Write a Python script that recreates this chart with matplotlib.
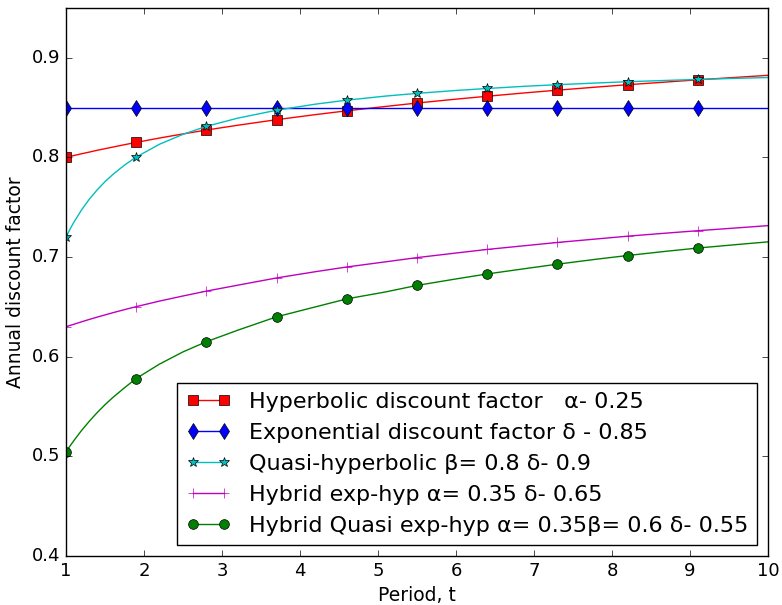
import numpy as np
import matplotlib
matplotlib.use('Agg')
from matplotlib import pyplot as plt

plt.style.use('classic')

# period values (dense list so the curves look smooth) and marker positions
t = [1.0, 1.05, 1.1, 1.2, 1.3, 1.4, 1.5, 1.6, 1.75, 1.9, 2.2, 2.5, 2.8, 3.2, 3.7,
     4.2, 4.6, 5.1, 5.5, 6.0, 6.4, 6.9, 7.3, 7.8, 8.2, 8.7, 9.1, 9.6, 10.0]
marks = [0, 9, 12, 14, 16, 18, 20, 22, 24, 26]

hyperbolic = [0.800, 0.8009, 0.8018, 0.8036, 0.8053, 0.8071, 0.8087, 0.8103, 0.8127,
              0.8150, 0.8194, 0.8235, 0.8274, 0.8322, 0.8378, 0.8429, 0.8467, 0.8511,
              0.8545, 0.8584, 0.8613, 0.8648, 0.8674, 0.8705, 0.8729, 0.8756, 0.8778,
              0.8803, 0.8823]
exponential = [0.85] * len(t)
quasi = [0.720, 0.7277, 0.7348, 0.7473, 0.7581, 0.7674, 0.7756, 0.7828, 0.7922,
         0.8003, 0.8132, 0.8231, 0.8311, 0.8393, 0.8473, 0.8534, 0.8574, 0.8615,
         0.8642, 0.8671, 0.8691, 0.8714, 0.8729, 0.8746, 0.8759, 0.8772, 0.8782,
         0.8793, 0.8801]
hybrid = [0.630, 0.6313, 0.6325, 0.6350, 0.6374, 0.6397, 0.6419, 0.6441, 0.6472,
          0.6502, 0.6558, 0.6609, 0.6658, 0.6717, 0.6790, 0.6853, 0.6900, 0.6952,
          0.6994, 0.7040, 0.7076, 0.7115, 0.7146, 0.7181, 0.7209, 0.7240, 0.7264,
          0.7292, 0.7315]
hybrid_quasi = [0.5045, 0.5102, 0.5157, 0.5260, 0.5353, 0.5439, 0.5518, 0.5590, 0.5688,
                0.5781, 0.5926, 0.6048, 0.6150, 0.6265, 0.6400, 0.6500, 0.6580, 0.6650,
                0.6715, 0.6780, 0.6830, 0.6885, 0.6928, 0.6978, 0.7015, 0.7058, 0.7090,
                0.7125, 0.7152]

labels = ['Hyperbolic discount factor   \u03b1- 0.25',
          'Exponential discount factor \u03b4 - 0.85',
          'Quasi-hyperbolic \u03b2= 0.8 \u03b4- 0.9',
          'Hybrid exp-hyp \u03b1= 0.35 \u03b4- 0.65',
          'Hybrid Quasi exp-hyp \u03b1= 0.35\u03b2= 0.6 \u03b4- 0.55']

fig = plt.figure(figsize=(7.82, 6.05), dpi=100)
ax = fig.add_subplot(111)
fig.subplots_adjust(left=0.0844, right=0.982, bottom=0.081, top=0.987)

ax.plot(t, hyperbolic, 'r-s', markevery=marks, markersize=7, label=labels[0])
ax.plot(t, exponential, 'b-d', markevery=marks, markersize=8, label=labels[1])
ax.plot(t, quasi, 'c-*', markevery=marks, markersize=7, label=labels[2])
ax.plot(t, hybrid, 'm-+', markevery=marks, markersize=7, label=labels[3])
ax.plot(t, hybrid_quasi, 'g-o', markevery=marks, markersize=7, label=labels[4])

ax.set_xlim(1, 10)
ax.set_ylim(0.4, 0.95)
ax.set_yticks([0.4, 0.5, 0.6, 0.7, 0.8, 0.9])
ax.tick_params(labelsize=13)
ax.set_xlabel('Period, t', fontsize=13.5)
ax.set_ylabel('Annual discount factor', fontsize=13.5)
ax.legend(loc='lower right', fontsize=16)

fig.savefig('out.png', dpi=100)
